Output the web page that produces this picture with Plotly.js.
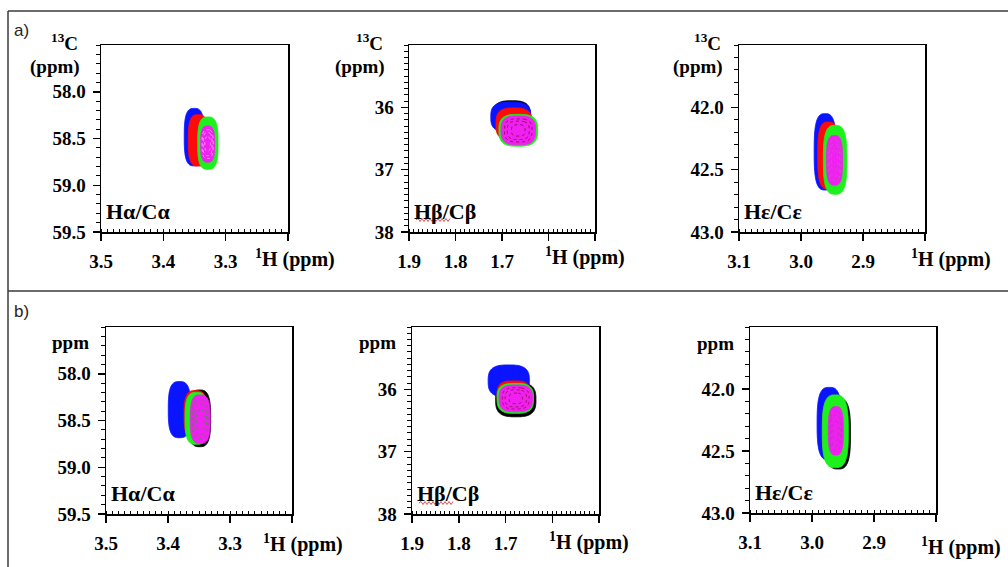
<!DOCTYPE html>
<html><head><meta charset="utf-8">
<script src="https://cdn.plot.ly/plotly-3.0.1.min.js"></script>
<style>html,body{margin:0;padding:0;background:#fff}#chart{width:1008px;height:567px}</style>
</head><body><div id="chart"></div>
<script>
// ---------- labels / ticks ----------
const rowLabels = ['a)', 'b)'];
const peakLabels = ['Hα/Cα', 'Hβ/Cβ', 'Hε/Cε'];
const hTicksAlpha = [3.5, 3.4, 3.3, 3.2];
const hTickTextAlpha = ['3.5', '3.4', '3.3', ''];
const hTicksBeta = [1.9, 1.8, 1.7, 1.6, 1.5];
const hTickTextBeta = ['1.9', '1.8', '1.7', '', ''];
const hTicksEps = [3.1, 3.0, 2.9, 2.8];
const hTickTextEps = ['3.1', '3.0', '2.9', ''];
const cTicksAlpha = [58.0, 58.5, 59.0, 59.5];
const cTickTextAlpha = ['58.0', '58.5', '59.0', '59.5'];
const cTicksBeta = [36, 37, 38];
const cTickTextBeta = ['36', '37', '38'];
const cTicksEps = [42.0, 42.5, 43.0];
const cTickTextEps = ['42.0', '42.5', '43.0'];
const hRangeAlpha = [3.5, 3.2], hRangeBeta = [1.9, 1.5], hRangeEps = [3.1, 2.8];
const cRangeAlpha = [59.5, 57.5], cRangeBeta = [38, 35], cRangeEps = [43.0, 41.5];

// ---------- spectra (drawing order) ----------
const spectrumNames = ['black', 'blue', 'red', 'green', 'magenta'];
const spectrumColors = ['#000000', '#0a14ff', '#ff0a0a', '#1ef01e', '#f020f0'];

// peak centre (1H, 13C ppm) and half extents of the lowest contour, per spectrum
const a1H  = [null, 3.3504, 3.344, 3.3285, 3.329];
const a1C  = [null, 58.485, 58.52, 58.55, 58.56];
const a1dH = [null, 0.016, 0.016, 0.0163, 0.0112];
const a1dC = [null, 0.307, 0.275, 0.28, 0.193];

const a2H  = [1.679, 1.681, 1.674, 1.665, 1.665];
const a2C  = [36.14, 36.156, 36.27, 36.368, 36.37];
const a2dH = [0.040, 0.043, 0.039, 0.0415, 0.037];
const a2dC = [0.245, 0.242, 0.26, 0.255, 0.232];

const a3H  = [null, 2.961, 2.956, 2.945, 2.946];
const a3C  = [null, 42.357, 42.387, 42.421, 42.425];
const a3dH = [null, 0.0177, 0.017, 0.0189, 0.0129];
const a3dC = [null, 0.306, 0.269, 0.276, 0.199];

const b1H  = [3.349, 3.3815, 3.3556, 3.354, 3.348];
const b1C  = [58.477, 58.384, 58.44, 58.477, 58.486];
const b1dH = [0.0177, 0.018, 0.0185, 0.0185, 0.016];
const b1dC = [0.303, 0.30, 0.26, 0.278, 0.259];

const b2H  = [1.678, 1.693, 1.682, 1.679, 1.678];
const b2C  = [36.167, 35.867, 36.09, 36.145, 36.145];
const b2dH = [0.043, 0.044, 0.036, 0.039, 0.0357];
const b2dC = [0.273, 0.257, 0.225, 0.24, 0.214];

const b3H  = [2.958, 2.972, 2.965, 2.9624, 2.9616];
const b3C  = [42.36, 42.28, 42.33, 42.341, 42.337];
const b3dH = [0.020, 0.0197, 0.018, 0.021, 0.0121];
const b3dC = [0.285, 0.293, 0.26, 0.293, 0.195];

// ---------- panel assembly ----------
const W = 1008, Hh = 567;
const panels = [
  {H:a1H, C:a1C, dH:a1dH, dC:a1dC, hr:hRangeAlpha, cr:cRangeAlpha, ht:hTicksAlpha, htt:hTickTextAlpha, ct:cTicksAlpha, ctt:cTickTextAlpha, lab:0, box:[101,288,45,232], inner:'rgba(255,230,255,0.8)'},
  {H:a2H, C:a2C, dH:a2dH, dC:a2dC, hr:hRangeBeta, cr:cRangeBeta, ht:hTicksBeta, htt:hTickTextBeta, ct:cTicksBeta, ctt:cTickTextBeta, lab:1, box:[409,595,45,232], inner:'rgba(90,0,20,0.8)'},
  {H:a3H, C:a3C, dH:a3dH, dC:a3dC, hr:hRangeEps, cr:cRangeEps, ht:hTicksEps, htt:hTickTextEps, ct:cTicksEps, ctt:cTickTextEps, lab:2, box:[739,925,45,232], inner:'rgba(170,120,170,0.8)'},
  {H:b1H, C:b1C, dH:b1dH, dC:b1dC, hr:hRangeAlpha, cr:cRangeAlpha, ht:hTicksAlpha, htt:hTickTextAlpha, ct:cTicksAlpha, ctt:cTickTextAlpha, lab:0, box:[106,292,327,514], inner:'rgba(40,160,40,0.8)'},
  {H:b2H, C:b2C, dH:b2dH, dC:b2dC, hr:hRangeBeta, cr:cRangeBeta, ht:hTicksBeta, htt:hTickTextBeta, ct:cTicksBeta, ctt:cTickTextBeta, lab:1, box:[412,599,327,514], inner:'rgba(120,0,30,0.8)'},
  {H:b3H, C:b3C, dH:b3dH, dC:b3dC, hr:hRangeEps, cr:cRangeEps, ht:hTicksEps, htt:hTickTextEps, ct:cTicksEps, ctt:cTickTextEps, lab:2, box:[750,936,327,513], inner:'rgba(150,70,150,0.8)'}
];

const P = 3.0, EDGE = Math.exp(-1);
function peakField(h, c, dh, dc) {
  const n = 71, xs = [], ys = [], z = [];
  for (let i = 0; i < n; i++) xs.push(h - 1.5 * dh + 3.0 * dh * i / (n - 1));
  for (let j = 0; j < n; j++) ys.push(c - 1.5 * dc + 3.0 * dc * j / (n - 1));
  for (let j = 0; j < n; j++) {
    const row = [];
    for (let i = 0; i < n; i++) {
      const u = Math.abs((xs[i] - h) / dh), v = Math.abs((ys[j] - c) / dc);
      row.push(Math.exp(-(Math.pow(u, P) + Math.pow(v, P))));
    }
    z.push(row);
  }
  return {xs, ys, z};
}

const SERIF = 'Liberation Serif';
function sfont(size) { return {family: SERIF, size: size, color: '#000', weight: 'bold'}; }
const traces = [];
const layout = {
  width: W, height: Hh, margin: {l: 0, r: 0, t: 0, b: 0},
  paper_bgcolor: '#fff', plot_bgcolor: '#fff', showlegend: false,
  annotations: [], shapes: []
};

panels.forEach((p, k) => {
  const ax = k === 0 ? '' : String(k + 1);
  const [x0, x1, y0, y1] = p.box;
  layout['xaxis' + ax] = {
    domain: [x0 / W, x1 / W], range: p.hr, anchor: 'y' + ax,
    tickmode: 'array', tickvals: p.ht, ticktext: p.htt,
    ticks: 'outside', ticklen: 7, tickwidth: 1.5, tickcolor: '#000',
    showline: true, linecolor: '#000', linewidth: 1.5, mirror: true,
    showgrid: false, zeroline: false, tickfont: sfont(19), ticklabelstandoff: 5,
    minor: {tick0: 0, dtick: 0.01, ticks: 'inside', ticklen: 3, tickwidth: 1, tickcolor: '#000', showgrid: false}
  };
  layout['yaxis' + ax] = {
    domain: [1 - y1 / Hh, 1 - y0 / Hh], range: p.cr, anchor: 'x' + ax,
    tickmode: 'array', tickvals: p.ct, ticktext: p.ctt,
    ticks: 'outside', ticklen: 7, tickwidth: 1.5, tickcolor: '#000',
    showline: true, linecolor: '#000', linewidth: 1.5, mirror: true,
    showgrid: false, zeroline: false, tickfont: sfont(19), ticklabelstandoff: 3,
    minor: {tick0: 0, dtick: 0.1, ticks: 'outside', ticklen: 4, tickwidth: 1, tickcolor: '#000', showgrid: false}
  };
  spectrumNames.forEach((nm, s) => {
    if (p.H[s] === null) return;
    const f = peakField(p.H[s], p.C[s], p.dH[s], p.dC[s]);
    traces.push({
      type: 'contour', x: f.xs, y: f.ys, z: f.z, xaxis: 'x' + ax, yaxis: 'y' + ax,
      name: nm, contours: {type: 'constraint', operation: '<', value: EDGE},
      fillcolor: spectrumColors[s], line: {color: spectrumColors[s], width: 1, smoothing: 0.6},
      showscale: false, hoverinfo: 'skip'
    });
    if (s === spectrumNames.length - 1) {
      traces.push({
        type: 'contour', x: f.xs, y: f.ys, z: f.z, xaxis: 'x' + ax, yaxis: 'y' + ax,
        contours: {coloring: 'lines', start: 0.6, end: 0.95, size: 0.17},
        colorscale: [[0, p.inner], [1, p.inner]], line: {width: 0.8, dash: 'dot', smoothing: 1},
        showscale: false, hoverinfo: 'skip'
      });
    }
  });
  // panel label inside plot
  layout.annotations.push({
    xref: 'paper', yref: 'paper', x: (x0 + 3) / W, y: 1 - (y1 - 21) / Hh,
    xanchor: 'left', yanchor: 'middle', showarrow: false,
    text: peakLabels[p.lab], font: sfont(22)
  });
});

// axis titles
const cTitleA = [[80, 42, 67], [385, 42, 67], [723, 42, 67]];
cTitleA.forEach(([xr, ya, yb]) => {
  layout.annotations.push({xref:'paper', yref:'paper', x: xr / W, y: 1 - ya / Hh, xanchor:'right', yanchor:'middle', showarrow:false, text:'<sup>13</sup>C', font: sfont(19)});
  layout.annotations.push({xref:'paper', yref:'paper', x: (xr + 2) / W, y: 1 - yb / Hh, xanchor:'right', yanchor:'middle', showarrow:false, text:'(ppm)', font: sfont(19)});
});
const cTitleB = [[91, 342], [398, 342], [736, 343]];
cTitleB.forEach(([xr, yc]) => {
  layout.annotations.push({xref:'paper', yref:'paper', x: xr / W, y: 1 - yc / Hh, xanchor:'right', yanchor:'middle', showarrow:false, text:'ppm', font: sfont(19)});
});
const hTitles = [[253, 258], [543, 256], [909, 258], [261, 543], [547, 541], [919, 546]];
hTitles.forEach(([xl, yc]) => {
  layout.annotations.push({xref:'paper', yref:'paper', x: xl / W, y: 1 - yc / Hh, xanchor:'left', yanchor:'middle', showarrow:false, text:'<sup>1</sup>H (ppm)', font: sfont(20)});
});
// row labels
[[12, 30], [12, 311]].forEach(([xl, yc], i) => {
  layout.annotations.push({xref:'paper', yref:'paper', x: xl / W, y: 1 - yc / Hh, xanchor:'left', yanchor:'middle', showarrow:false, text: rowLabels[i], font:{family:'Liberation Sans', size:17, color:'#2a2218'}});
});
// figure frame lines
const frame = {color: '#3a3a3a', width: 1.5};
layout.shapes.push({type:'line', xref:'paper', yref:'paper', x0: 8 / W, x1: 1, y0: 1 - 11 / Hh, y1: 1 - 11 / Hh, line: frame});
layout.shapes.push({type:'line', xref:'paper', yref:'paper', x0: 8 / W, x1: 8 / W, y0: 1 - 11 / Hh, y1: 0, line: frame});
layout.shapes.push({type:'line', xref:'paper', yref:'paper', x0: 8 / W, x1: 1, y0: 1 - 291 / Hh, y1: 1 - 291 / Hh, line: frame});
// red wavy spell-check underline under "Hβ" in the reference
[[416, 451, 220], [419, 454, 503]].forEach(([xa, xb, yw]) => {
  let d = 'M' + (xa / W) + ',' + (1 - yw / Hh);
  let up = true;
  for (let xx = xa + 2; xx <= xb; xx += 2) { d += ' L' + (xx / W) + ',' + (1 - (yw + (up ? -1.5 : 1.5)) / Hh); up = !up; }
  layout.shapes.push({type:'path', xref:'paper', yref:'paper', path: d, line:{color:'#e05050', width:1}});
});

Plotly.newPlot('chart', traces, layout, {staticPlot: true, displayModeBar: false});
</script></body></html>
